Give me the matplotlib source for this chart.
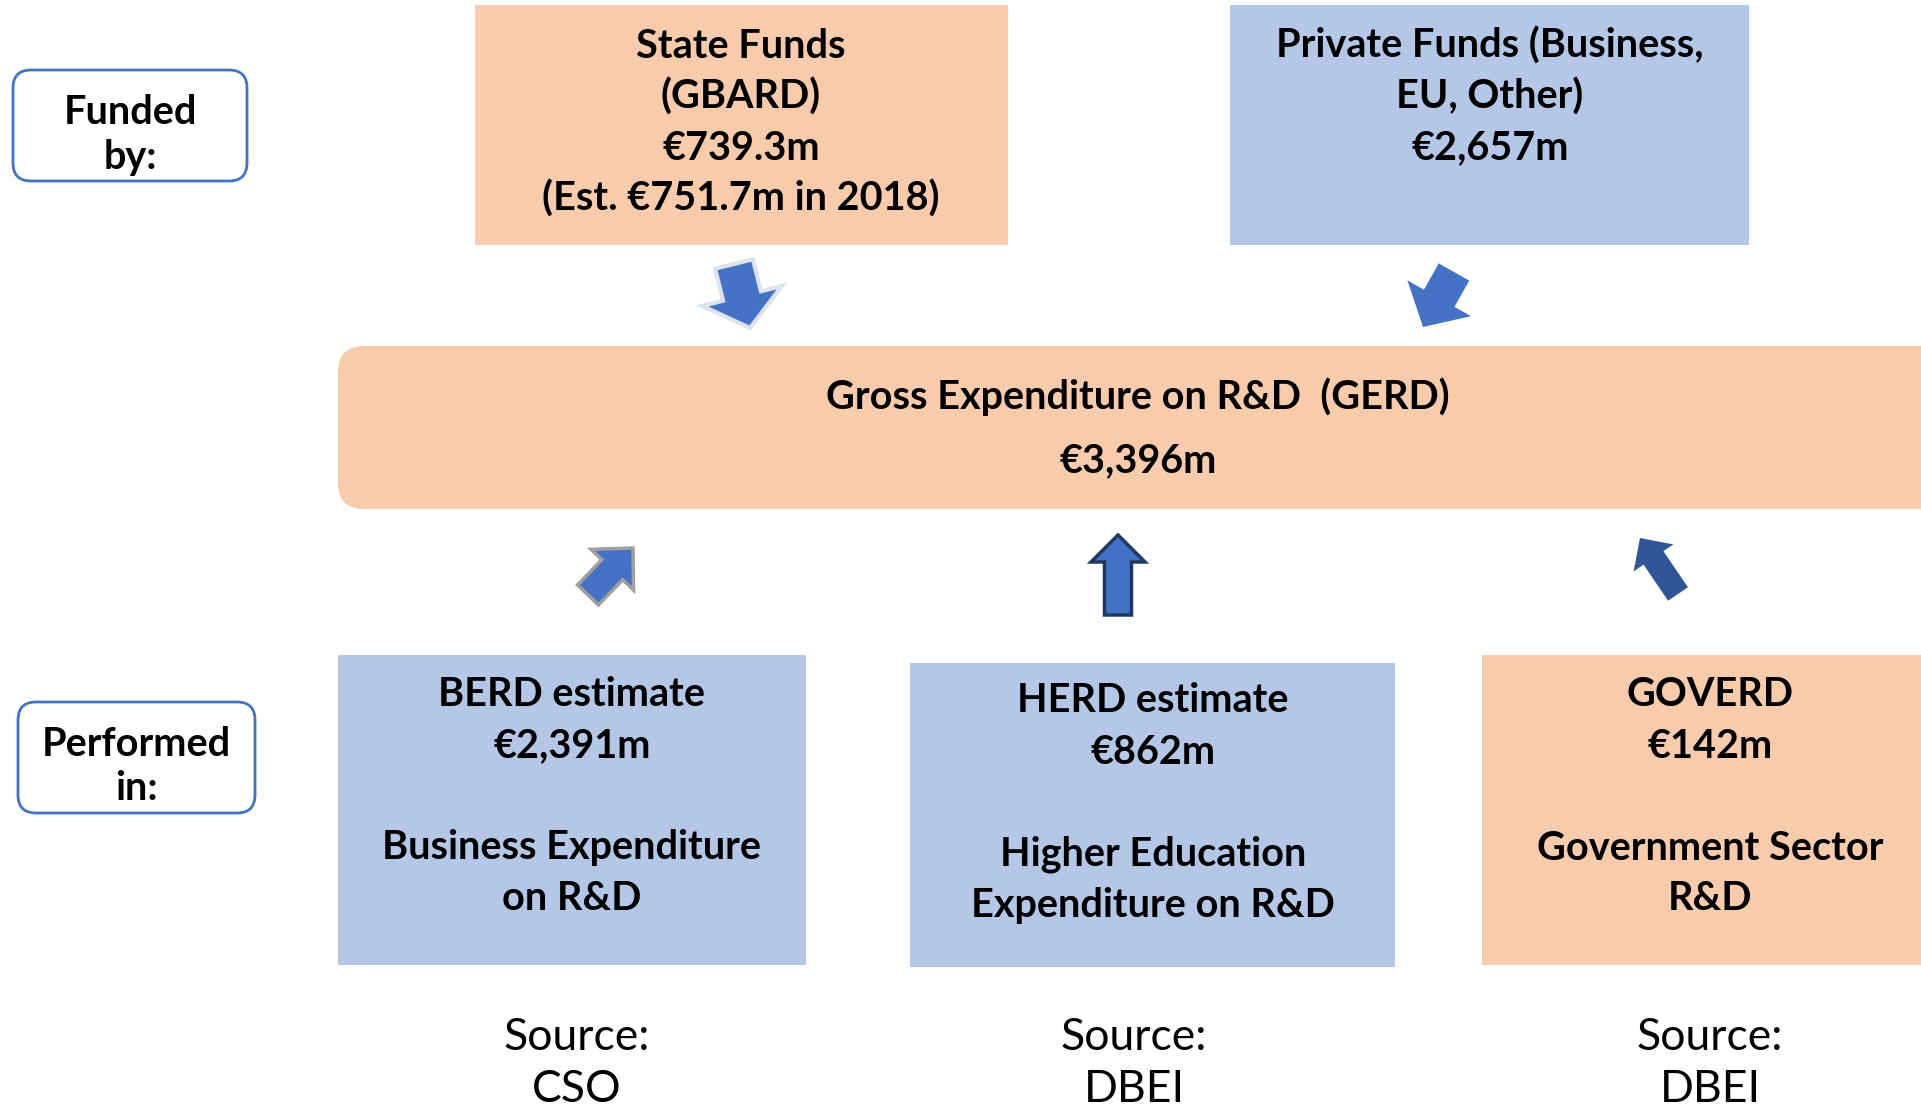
import matplotlib
matplotlib.use("Agg")
import matplotlib.pyplot as plt
import numpy as np
from matplotlib.patches import Rectangle, FancyBboxPatch, Polygon

plt.rcParams['font.family'] = ['Lato', 'DejaVu Sans']

# text content of the diagram
funded_label = ["Funded", "by:"]
performed_label = ["Performed", "in:"]
state_lines = ["State Funds", "(GBARD)", "€739.3m", "(Est. €751.7m in 2018)"]
private_lines = ["Private Funds (Business,", "EU, Other)", "€2,657m"]
gerd_lines = ["Gross Expenditure on R&D  (GERD)", "€3,396m"]
berd_lines = ["BERD estimate", "€2,391m", "", "Business Expenditure", "on R&D"]
herd_lines = ["HERD estimate", "€862m", "", "Higher Education", "Expenditure on R&D"]
goverd_lines = ["GOVERD", "€142m", "", "Government Sector", "R&D"]
sources = ["CSO", "DBEI", "DBEI"]

ORANGE = "#F8CBAD"
BLUE = "#B4C7E7"
ARROW = "#4472C4"
FS = 28.5

fig = plt.figure(figsize=(19.21, 11.11), dpi=100)
ax = fig.add_axes([0, 0, 1, 1])
ax.set_xlim(0, 1921)
ax.set_ylim(1111, 0)
ax.axis('off')


def block(lines, cx, y0, step, size=FS, weight='bold'):
    for i, t in enumerate(lines):
        ax.text(cx, y0 + i * step, t, ha='center', va='center',
                fontsize=size, fontweight=weight, color='black')


def arrow(tail, tip, shaft_w, head_w, head_l, fc, ec, lw):
    tail = np.array(tail, float)
    tip = np.array(tip, float)
    d = tip - tail
    d /= np.hypot(*d)
    n = np.array([-d[1], d[0]])
    base = tip - d * head_l
    pts = [tail + n * shaft_w / 2, base + n * shaft_w / 2, base + n * head_w / 2,
           tip, base - n * head_w / 2, base - n * shaft_w / 2, tail - n * shaft_w / 2]
    ax.add_patch(Polygon(pts, closed=True, fc=fc, ec=ec, lw=lw, joinstyle='miter'))


# label boxes on the left
for (x0, y0, x1, y1), lines, ys in [((13, 70, 247, 181), funded_label, (112, 157)),
                                    ((18, 702, 255, 813), performed_label, (744, 788))]:
    ax.add_patch(FancyBboxPatch((x0, y0), x1 - x0, y1 - y0,
                                boxstyle="round,pad=0,rounding_size=18",
                                fc='white', ec=ARROW, lw=2))
    for t, y in zip(lines, ys):
        ax.text((x0 + x1) / 2, y, t, ha='center', va='center',
                fontsize=FS, fontweight='bold')

# funders
ax.add_patch(Rectangle((475, 5), 533, 240, fc=ORANGE, ec='none'))
block(state_lines, 741, 46, 51)
ax.add_patch(Rectangle((1230, 5), 519, 240, fc=BLUE, ec='none'))
block(private_lines, 1490, 46, 51)

# GERD band
ax.add_patch(FancyBboxPatch((338, 346), 1640, 163,
                            boxstyle="round,pad=0,rounding_size=26",
                            fc=ORANGE, ec='none'))
ax.text(1138, 397, gerd_lines[0], ha='center', va='center', fontsize=FS, fontweight='bold')
ax.text(1138, 461, gerd_lines[1], ha='center', va='center', fontsize=FS, fontweight='bold')

# performers
ax.add_patch(Rectangle((338, 655), 468, 310, fc=BLUE, ec='none'))
block(berd_lines, 572, 695, 51)
ax.add_patch(Rectangle((910, 663), 485, 304, fc=BLUE, ec='none'))
block(herd_lines, 1153, 701, 51)
ax.add_patch(Rectangle((1482, 655), 460, 310, fc=ORANGE, ec='none'))
block(goverd_lines, 1710, 695, 51)

# sources
for cx, src in zip([577, 1134, 1710], sources):
    ax.text(cx, 1037, "Source:", ha='center', va='center', fontsize=32)
    ax.text(cx, 1090, src, ha='center', va='center', fontsize=32)

# arrows
arrow((734, 264), (750, 328), 39, 82, 33, ARROW, '#DDE3EE', 3)
arrow((1454, 272), (1423, 327), 35, 73, 33, ARROW, 'none', 0)
arrow((588, 595), (633, 548), 29, 59, 30, ARROW, '#A0A0A0', 2.5)
arrow((1118, 615), (1118, 535), 27, 54, 27, ARROW, '#1F3864', 2.5)
arrow((1678, 594), (1640, 538), 24, 48, 24, '#2F5597', 'none', 0)

fig.savefig("out.png", dpi=100)
